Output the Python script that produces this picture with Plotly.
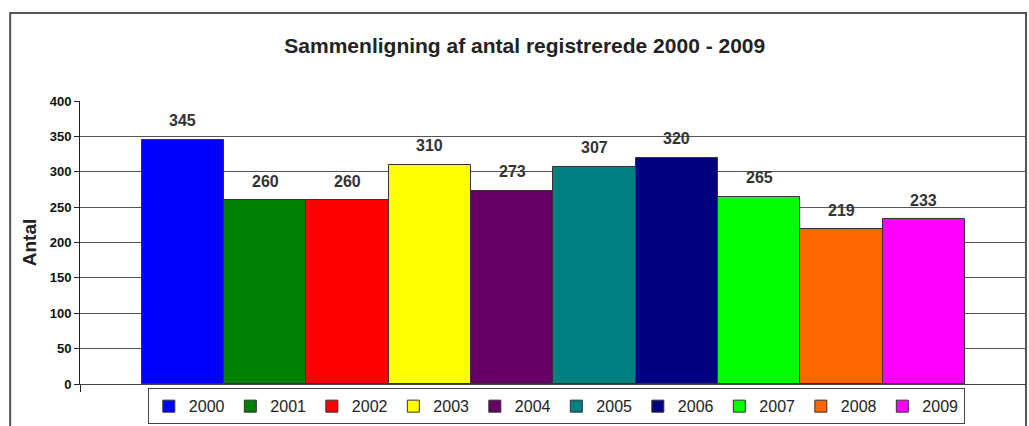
import plotly.graph_objects as go

# Registrations per year
years = ["2000", "2001", "2002", "2003", "2004", "2005", "2006", "2007", "2008", "2009"]
counts = [345, 260, 260, 310, 273, 307, 320, 265, 219, 233]
colors = ["#0000FF", "#008000", "#FF0000", "#FFFF00", "#660066",
          "#008080", "#000080", "#00FF00", "#FF6600", "#FF00FF"]

title_text = "Sammenligning af antal registrerede 2000 - 2009"
y_title = "Antal"
y_ticks = [0, 50, 100, 150, 200, 250, 300, 350, 400]

FONT = "Liberation Sans, Arial, sans-serif"

fig = go.Figure()
for i, (yr, val, col) in enumerate(zip(years, counts, colors)):
    fig.add_trace(go.Bar(
        x=[i], y=[val], name=yr, width=1,
        marker=dict(color=col, line=dict(color="#333333", width=1)),
        hoverinfo="name+y",
    ))
    # value label above each bar
    fig.add_annotation(
        x=i, y=val, text=f"<b>{val}</b>", showarrow=False,
        yshift=19, xref="x", yref="y",
        font=dict(family=FONT, size=16, color="#333333"),
    )

# outer chart frame
fig.add_shape(type="rect", xref="paper", yref="paper",
              x0=-0.0738, x1=1.0, y0=-0.2, y1=1.311,
              line=dict(color="#555555", width=2), fillcolor="rgba(0,0,0,0)",
              layer="below")

fig.update_layout(
    width=1029, height=426,
    margin=dict(l=80, r=3, t=101, b=42, autoexpand=False),
    paper_bgcolor="white", plot_bgcolor="white",
    barmode="overlay", bargap=0,
    showlegend=True,
    title=dict(text=f"<b>{title_text}</b>", x=0.51, xref="container", xanchor="center",
               y=1 - 46 / 426, yref="container", yanchor="middle",
               font=dict(family=FONT, size=21, color="#222222")),
    legend=dict(orientation="h", x=0.0717, xanchor="left", y=-0.015, yanchor="top",
                bordercolor="#444444", borderwidth=1, bgcolor="white",
                font=dict(family=FONT, size=16, color="#222222"),
                entrywidth=36.5, entrywidthmode="pixels", itemwidth=30,
                traceorder="normal"),
    xaxis=dict(range=[-1.25, 10.24], showgrid=False, zeroline=False,
               showline=True, linecolor="#444444", linewidth=1,
               tickvals=[-1.25], ticktext=[""], ticks="outside", ticklen=7,
               tickcolor="#222222", fixedrange=True),
    yaxis=dict(range=[0, 400], tickvals=y_ticks,
               ticktext=[f"<b>{v}</b>" for v in y_ticks],
               showgrid=True, gridcolor="#555555",
               gridwidth=1, zeroline=False, showline=True, linecolor="#222222", linewidth=1,
               ticks="outside", ticklen=5, tickcolor="#222222",
               tickfont=dict(family=FONT, size=13, color="#111111"),
               title=dict(text=f"<b>{y_title}</b>", standoff=8,
                          font=dict(family=FONT, size=19, color="#222222"))),
    font=dict(family=FONT),
)

fig.write_html("out.html")
